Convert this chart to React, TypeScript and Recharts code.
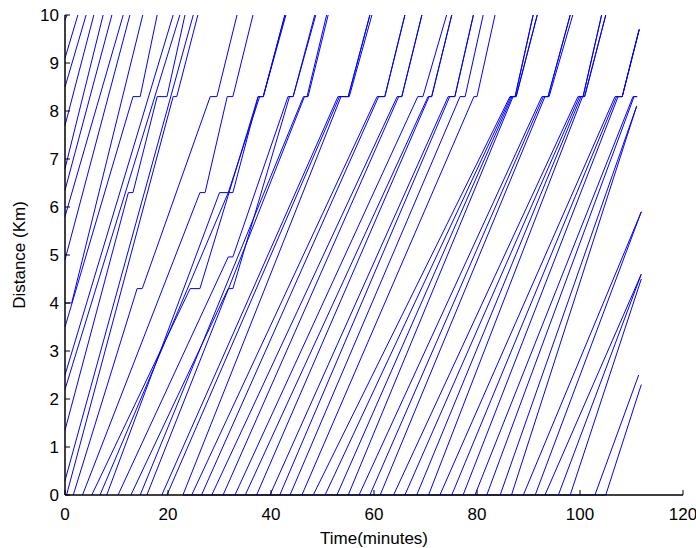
import { LineChart, Line, XAxis, YAxis } from 'recharts';

// time (minutes) / distance (km) vertices of each vehicle trajectory
const ENTERING_TRIPS: number[][][] = [
  [[0, 9.9], [0.4, 10]],
  [[0, 9.1], [2.5, 10]],
  [[0, 8.5], [4.1, 10]],
  [[0, 7.7], [5.6, 10]],
  [[0, 6.8], [7.4, 10]],
  [[0, 6.35], [9.1, 10]],
  [[0, 5.8], [11.3, 10]],
  [[0, 4.9], [12.6, 10]],
  [[0, 4.0], [1.3, 4.0], [15.1, 10]],
  [[0, 3.5], [13.2, 8.3], [14.6, 8.3], [17.9, 10]],
  [[0, 2.5], [21.0, 10]],
  [[0, 2.2], [22.3, 10]],
  [[0, 1.35], [12.3, 6.3], [13.2, 6.3], [17.9, 8.3], [19.8, 8.3], [23.3, 10]],
  [[0, 0.3], [24.9, 10]],
];

const DEPARTING_TRIPS: number[][][] = [
  [[0.3, 0], [21.0, 8.3], [21.7, 8.3], [25.8, 10]],
  [[1.6, 0], [14.0, 4.3], [15.0, 4.3], [28.2, 8.3], [29.5, 8.3], [33.4, 10]],
  [[3.4, 0], [26.2, 6.3], [27.2, 6.3], [31.5, 8.3], [32.6, 8.3], [36.5, 10]],
  [[5.2, 0], [24.3, 4.3], [26.2, 4.3], [37.5, 8.3], [38.5, 8.3], [42.7, 10]],
  [[6.8, 0], [31.7, 6.3], [32.6, 6.3], [37.5, 8.3], [38.5, 8.3], [42.7, 10]],
  [[8.1, 0], [30.0, 6.3], [31.7, 6.3], [37.8, 8.3], [38.5, 8.3], [42.9, 10]],
  [[10.3, 0], [31.7, 4.96], [32.6, 4.96], [43.3, 8.3], [44.3, 8.3], [48.5, 10]],
  [[12.8, 0], [31.7, 4.3], [32.6, 4.3], [43.6, 8.3], [44.3, 8.3], [48.7, 10]],
  [[14.6, 0], [46.3, 8.3], [47.0, 8.3], [50.8, 10]],
  [[15.9, 0], [46.5, 8.3], [47.2, 8.3], [51.1, 10]],
  [[18.8, 0], [53.0, 8.3], [55.0, 8.3], [59.2, 10]],
  [[19.8, 0], [53.3, 8.3], [55.0, 8.3], [59.2, 10]],
  [[22.9, 0], [53.6, 8.3], [55.2, 8.3], [59.6, 10]],
  [[24.6, 0], [60.6, 8.3], [62.1, 8.3], [66.0, 10]],
  [[26.5, 0], [60.9, 8.3], [62.1, 8.3], [66.0, 10]],
  [[28.5, 0], [64.5, 8.3], [65.4, 8.3], [69.3, 10]],
  [[30.7, 0], [64.8, 8.3], [65.4, 8.3], [69.3, 10]],
  [[33.0, 0], [68.5, 8.3], [69.5, 8.3], [74.1, 10]],
  [[35.0, 0], [70.5, 8.3], [71.2, 8.3], [75.1, 10]],
  [[37.2, 0], [70.7, 8.3], [71.2, 8.3], [75.1, 10]],
  [[39.8, 0], [74.4, 8.3], [75.7, 8.3], [79.3, 10]],
  [[41.7, 0], [74.7, 8.3], [75.7, 8.3], [79.3, 10]],
  [[43.7, 0], [76.7, 8.3], [77.7, 8.3], [81.2, 10]],
  [[46.0, 0], [79.4, 8.3], [80.0, 8.3], [83.5, 10]],
  [[48.2, 0], [86.4, 8.3], [87.4, 8.3], [90.9, 10]],
  [[50.5, 0], [86.6, 8.3], [87.4, 8.3], [90.9, 10]],
  [[52.8, 0], [86.8, 8.3], [87.6, 8.3], [91.7, 10]],
  [[55.0, 0], [87.0, 8.3], [87.6, 8.3], [91.7, 10]],
  [[57.1, 0], [92.6, 8.3], [93.8, 8.3], [98.1, 10]],
  [[59.2, 0], [92.9, 8.3], [93.8, 8.3], [98.1, 10]],
  [[61.2, 0], [93.2, 8.3], [94.0, 8.3], [98.6, 10]],
  [[63.8, 0], [99.6, 8.3], [100.6, 8.3], [104.2, 10]],
  [[66.0, 0], [99.9, 8.3], [100.6, 8.3], [104.2, 10]],
  [[68.3, 0], [100.2, 8.3], [100.9, 8.3], [105.0, 10]],
  [[70.6, 0], [100.5, 8.3], [100.9, 8.3], [105.0, 10]],
  [[72.8, 0], [106.8, 8.3], [108.2, 8.3], [111.5, 9.7]],
  [[75.1, 0], [107.1, 8.3], [108.2, 8.3], [111.5, 9.7]],
  [[77.3, 0], [107.4, 8.3], [108.2, 8.3], [111.5, 9.7]],
  [[79.6, 0], [110.3, 8.3], [111.1, 8.3]],
  [[81.9, 0], [110.5, 8.3], [111.1, 8.3]],
  [[84.5, 0], [111.0, 8.1]],
  [[86.7, 0], [111.0, 8.1]],
  [[89.0, 0], [111.9, 5.9]],
  [[91.3, 0], [111.9, 5.9]],
  [[93.2, 0], [111.9, 4.6]],
  [[95.8, 0], [111.9, 4.6]],
  [[98.1, 0], [111.9, 4.5]],
  [[102.9, 0], [111.4, 2.5]],
  [[105.0, 0], [111.9, 2.3]],
];

// vehicles held at the origin
const WAITING_AT_ORIGIN: number[][] = [[22.9, 0], [105.0, 0]];

const X_TICKS = [0, 20, 40, 60, 80, 100, 120];
const Y_TICKS = [0, 1, 2, 3, 4, 5, 6, 7, 8, 9, 10];

const BLUE = '#0000ff';
const INK = '#000000';
const FONT = "'Liberation Sans', Arial, sans-serif";
const FONT_SIZE = 17;
const GAP = 13;
const TICK_LEN = 5;

const toRows = (pts: number[][]) => pts.map(([t, d]) => ({ t, d }));

const allTrips = [...ENTERING_TRIPS, ...DEPARTING_TRIPS, WAITING_AT_ORIGIN].map(toRows);

const BottomTick = ({ x, y, payload }: any) => (
  <g>
    <line x1={x} y1={y - GAP} x2={x} y2={y - GAP - TICK_LEN} stroke={INK} />
    <text x={x} y={y} dy="0.71em" textAnchor="middle" fontFamily={FONT} fontSize={FONT_SIZE} fill={INK}>
      {payload.value}
    </text>
  </g>
);

const TopTick = ({ x, y }: any) => (
  <line x1={x} y1={y + 2} x2={x} y2={y + 2 + TICK_LEN} stroke={INK} />
);

const LeftTick = ({ x, y, payload }: any) => (
  <g>
    <line x1={x + 6} y1={y} x2={x + 6 + TICK_LEN} y2={y} stroke={INK} />
    <text x={x} y={y} dy="0.355em" textAnchor="end" fontFamily={FONT} fontSize={FONT_SIZE} fill={INK}>
      {payload.value}
    </text>
  </g>
);

const RightTick = ({ x, y }: any) => (
  <line x1={x - 2} y1={y} x2={x - 2 - TICK_LEN} y2={y} stroke={INK} />
);

const XLabel = ({ viewBox }: any) => (
  <text
    x={viewBox.x + viewBox.width / 2}
    y={544}
    textAnchor="middle"
    fontFamily={FONT}
    fontSize={FONT_SIZE}
    fill={INK}
  >
    Time(minutes)
  </text>
);

const YLabel = ({ viewBox }: any) => {
  const cx = 25;
  const cy = viewBox.y + viewBox.height / 2;
  return (
    <text
      x={cx}
      y={cy}
      transform={`rotate(-90, ${cx}, ${cy})`}
      textAnchor="middle"
      fontFamily={FONT}
      fontSize={FONT_SIZE}
      fill={INK}
    >
      Distance (Km)
    </text>
  );
};

export default function App() {
  return (
    <div style={{ position: 'absolute', left: 0, top: 0, background: '#fff' }}>
      <LineChart width={696} height={548} margin={{ top: 15, right: 13, bottom: 0, left: 0 }}>
        <XAxis
          dataKey="t"
          type="number"
          domain={[0, 120]}
          ticks={X_TICKS}
          height={53}
          tickSize={0}
          tickMargin={GAP}
          tickLine={false}
          tick={<BottomTick />}
          axisLine={{ stroke: INK, strokeWidth: 1.5 }}
          label={<XLabel />}
        />
        <XAxis
          xAxisId="top"
          orientation="top"
          type="number"
          domain={[0, 120]}
          ticks={X_TICKS}
          height={0}
          tickSize={0}
          tickMargin={2}
          tickLine={false}
          tick={<TopTick />}
          axisLine={{ stroke: INK, strokeWidth: 1.5 }}
        />
        <YAxis
          type="number"
          domain={[0, 10]}
          ticks={Y_TICKS}
          width={65}
          tickSize={0}
          tickMargin={6}
          tickLine={false}
          tick={<LeftTick />}
          axisLine={{ stroke: INK, strokeWidth: 1.5 }}
          label={<YLabel />}
        />
        <YAxis
          yAxisId="right"
          orientation="right"
          type="number"
          domain={[0, 10]}
          ticks={Y_TICKS}
          width={0}
          tickSize={0}
          tickMargin={2}
          tickLine={false}
          tick={<RightTick />}
          axisLine={{ stroke: INK, strokeWidth: 1.5 }}
        />
        {allTrips.map((rows, i) => (
          <Line
            key={`trip-${i}`}
            data={rows}
            dataKey="d"
            type="linear"
            stroke={BLUE}
            strokeWidth={1}
            dot={false}
            activeDot={false}
            isAnimationActive={false}
          />
        ))}
      </LineChart>
    </div>
  );
}
